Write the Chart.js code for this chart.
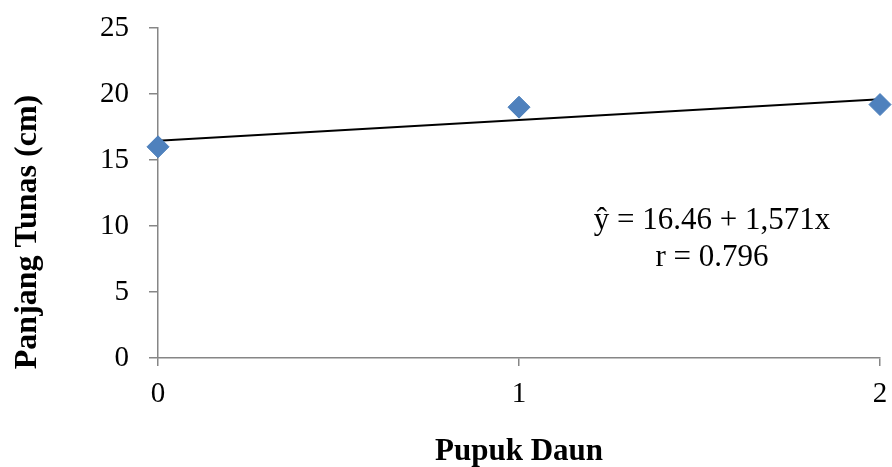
<!DOCTYPE html>
<html lang="id">
<head>
  <meta charset="UTF-8" />
  <title>Panjang Tunas vs Pupuk Daun</title>
  <script src="https://cdn.jsdelivr.net/npm/chart.js"></script>
  <style>
    body {
      margin: 0;
      padding: 0;
      background: #fff;
    }
    canvas {
      display: block;
    }
  </style>
</head>
<body>
  <canvas id="tunasChart" width="892" height="467"></canvas>

  <script>
    // observed shoot length per leaf-fertilizer dose
    const doses = [0, 1, 2];
    const shootLength = [16.0, 19.0, 19.2];
    const yTicks = [0, 5, 10, 15, 20, 25];

    // regression coefficients as printed on the chart
    const intercept = 16.46;
    const slope = 1.571;
    const rValue = '0.796';

    const serif = '"Liberation Serif", "Times New Roman", serif';

    const fitLine = [doses[0], doses[doses.length - 1]].map(x => ({ x: x, y: intercept + slope * x }));

    const labelsPlugin = {
      id: 'labels',
      afterDraw(chart) {
        const ctx = chart.ctx;
        const area = chart.chartArea;
        ctx.save();
        ctx.fillStyle = '#000';

        // axis titles
        ctx.font = 'bold 31px ' + serif;
        ctx.textAlign = 'center';
        ctx.textBaseline = 'alphabetic';
        ctx.fillText('Pupuk Daun', (area.left + area.right) / 2, 460);

        ctx.save();
        ctx.font = 'bold 32px ' + serif;
        ctx.translate(36, 232);
        ctx.rotate(-Math.PI / 2);
        ctx.fillText('Panjang Tunas (cm)', 0, 0);
        ctx.restore();

        // regression equation
        ctx.font = '31px ' + serif;
        ctx.fillText('ŷ = ' + intercept + ' + ' + String(slope).replace('.', ',') + 'x', 712, 229);
        ctx.fillText('r = ' + rValue, 712, 266);
        ctx.restore();
      }
    };

    const axisGrey = '#868686';

    new Chart(document.getElementById('tunasChart'), {
      type: 'scatter',
      data: {
        datasets: [
          {
            label: 'Panjang Tunas',
            data: doses.map((d, i) => ({ x: d, y: shootLength[i] })),
            pointStyle: 'rectRot',
            pointRadius: 11,
            backgroundColor: '#4f81bd',
            borderColor: '#4a7ebb',
            borderWidth: 1,
            clip: false,
            order: 1
          },
          {
            label: 'Regresi',
            type: 'line',
            data: fitLine,
            borderColor: '#000',
            borderWidth: 2,
            pointRadius: 0,
            fill: false,
            order: 2
          }
        ]
      },
      options: {
        responsive: false,
        animation: false,
        layout: { padding: { top: 28, right: 11, left: 0, bottom: 0 } },
        plugins: {
          legend: { display: false },
          tooltip: { enabled: false }
        },
        scales: {
          x: {
            type: 'linear',
            min: 0,
            max: 2,
            afterFit(scale) {
              scale.height = 109;
              scale.paddingLeft = 0;
              scale.paddingRight = 0;
            },
            afterBuildTicks(scale) { scale.ticks = doses.map(v => ({ value: v })); },
            grid: { drawOnChartArea: false, drawTicks: true, tickLength: 8, color: axisGrey, lineWidth: 1.5 },
            border: { color: axisGrey, width: 1.5 },
            ticks: { color: '#000', padding: 11, font: { family: serif, size: 29 } }
          },
          y: {
            min: 0,
            max: 25,
            afterFit(scale) {
              scale.width = 158;
              scale.paddingTop = 0;
              scale.paddingBottom = 0;
            },
            afterBuildTicks(scale) { scale.ticks = yTicks.map(v => ({ value: v })); },
            grid: { drawOnChartArea: false, drawTicks: true, tickLength: 9, color: axisGrey, lineWidth: 1.5 },
            border: { color: axisGrey, width: 1.5 },
            ticks: { color: '#000', padding: 20, font: { family: serif, size: 29 } }
          }
        }
      },
      plugins: [labelsPlugin]
    });
  </script>
</body>
</html>
